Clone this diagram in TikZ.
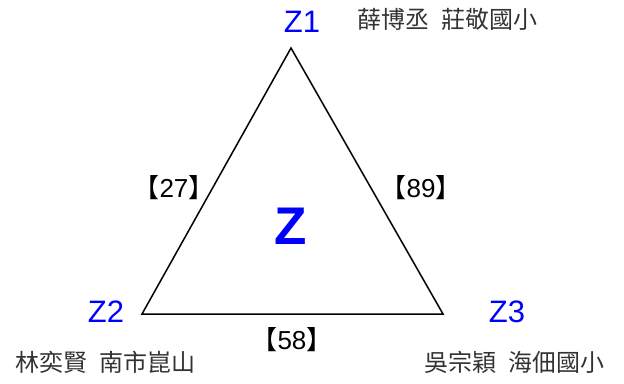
\documentclass[tikz,border=0pt]{standalone}
\usepackage{fontspec}
\setmainfont{Liberation Sans}
\newfontfamily\cjk{Noto Sans CJK TC}
\usepackage{tikz}
\usetikzlibrary{positioning,calc}

\begin{document}
\begin{tikzpicture}[
  x=1pt, y=-1pt,
  every node/.style={inner sep=0pt},
  vlab/.style={text=blue, font=\fontsize{31}{33}\selectfont},
  who/.style={font=\cjk\fontsize{24}{26}\selectfont, text=black!80},
  score/.style={font=\fontsize{26}{28}\selectfont},
  side/.style={draw, line width=1.5pt, line join=miter}
]
\useasboundingbox (0,0) rectangle (624,383);

%% --- Triangle ------------------------------------------------
\coordinate (p1) at (291,48);
\coordinate (p2) at (142,314);
\coordinate (p3) at (443,314);
\draw[side] (p1) -- (p2) -- (p3) -- cycle;

\node[text=blue, font=\bfseries\fontsize{53}{55}\selectfont] (z) at (291,226) {Z};

%% --- Vertex labels -------------------------------------------
\node[vlab] (z1) at (302,22)  {Z1};
\node[vlab] (z2) at (106,312) {Z2};
\node[vlab] (z3) at (507,312) {Z3};

%% --- Names ---------------------------------------------------
\node[who, anchor=west] (n1) at (357,19)  {薛博丞\hspace{0.5em}莊敬國小};
\node[who, anchor=west] (n2) at (15,362)  {林奕賢\hspace{0.5em}南市崑山};
\node[who, anchor=west] (n3) at (424,362) {吳宗穎\hspace{0.5em}海佃國小};

%% --- Edge scores ---------------------------------------------
\node[score] (s12) at (174,188) {{\cjk 【}27{\cjk 】}};
\node[score] (s13) at (421,188) {{\cjk 【}89{\cjk 】}};
\node[score] (s23) at (292,340) {{\cjk 【}58{\cjk 】}};

\end{tikzpicture}
\end{document}
